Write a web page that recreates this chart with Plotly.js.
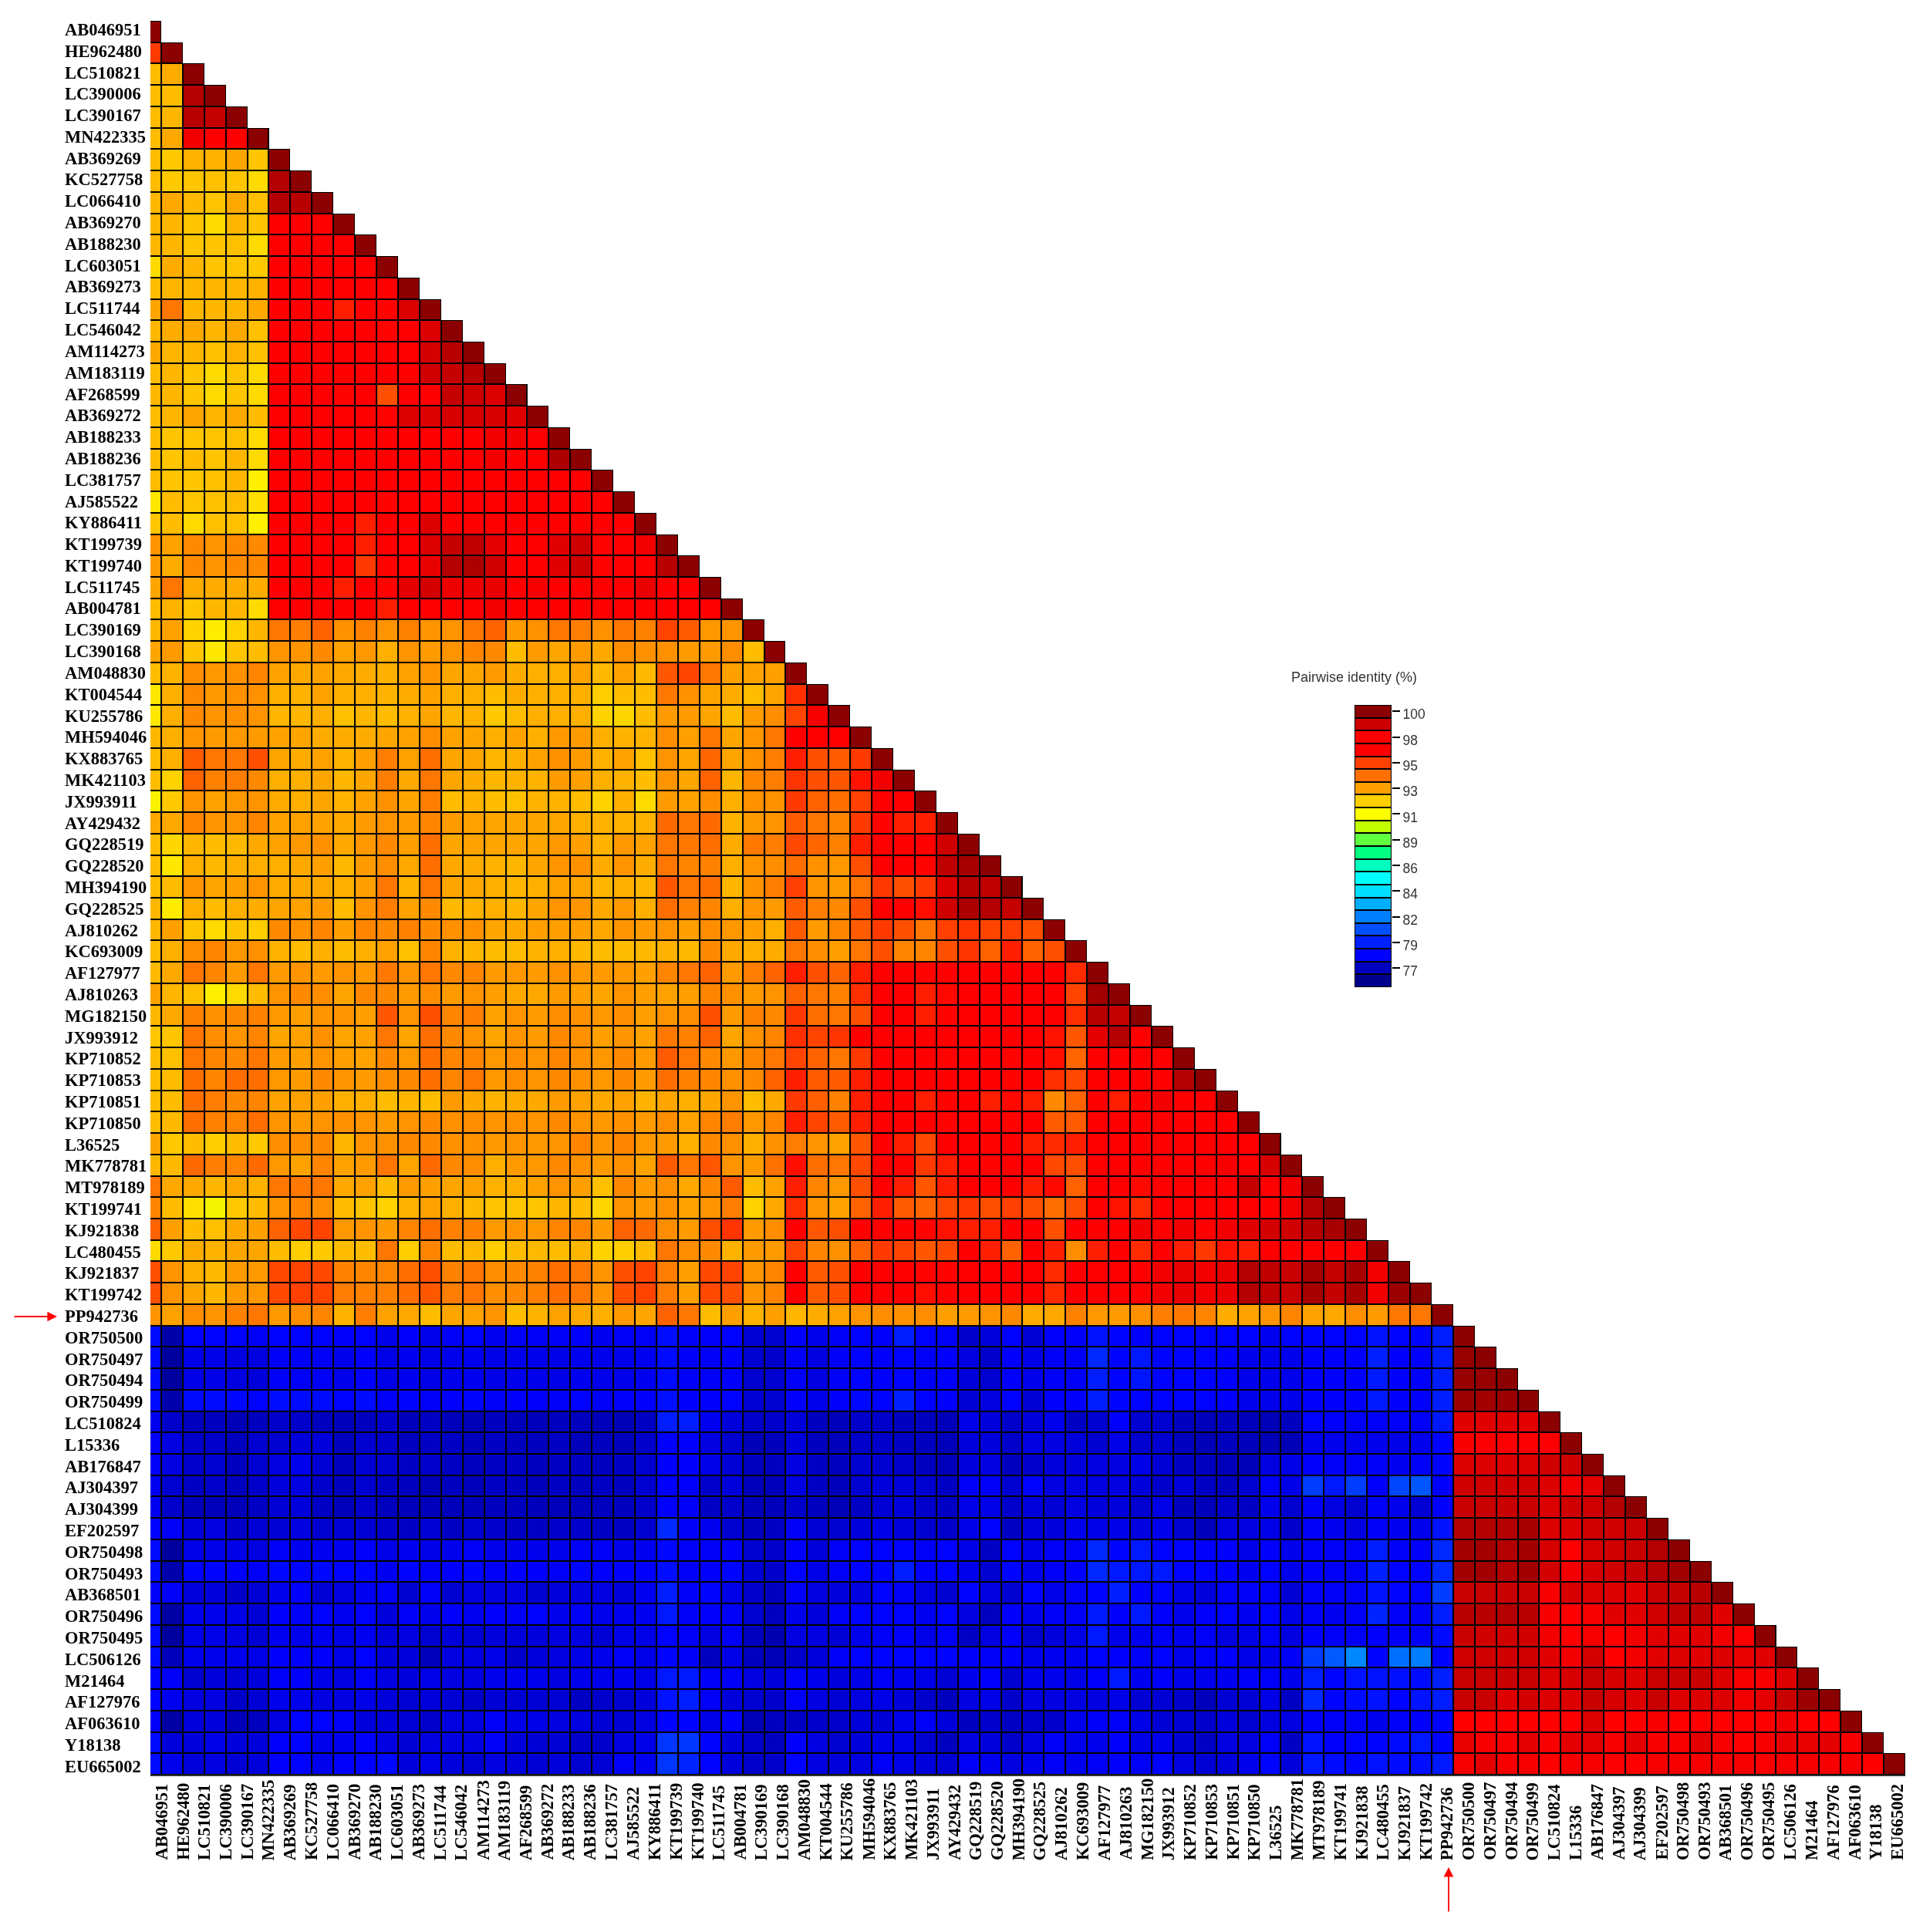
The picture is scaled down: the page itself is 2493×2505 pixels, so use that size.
<!DOCTYPE html>
<html><head><meta charset="utf-8">
<script src="https://cdn.plot.ly/plotly-3.0.1.min.js"></script>
<style>html,body{margin:0;padding:0;background:#fff}#p{width:2493px;height:2505px;filter:blur(0.55px)}</style></head>
<body><div id="p"></div>
<script>
const labels=["AB046951","HE962480","LC510821","LC390006","LC390167","MN422335","AB369269","KC527758","LC066410","AB369270","AB188230","LC603051","AB369273","LC511744","LC546042","AM114273","AM183119","AF268599","AB369272","AB188233","AB188236","LC381757","AJ585522","KY886411","KT199739","KT199740","LC511745","AB004781","LC390169","LC390168","AM048830","KT004544","KU255786","MH594046","KX883765","MK421103","JX993911","AY429432","GQ228519","GQ228520","MH394190","GQ228525","AJ810262","KC693009","AF127977","AJ810263","MG182150","JX993912","KP710852","KP710853","KP710851","KP710850","L36525","MK778781","MT978189","KT199741","KJ921838","LC480455","KJ921837","KT199742","PP942736","OR750500","OR750497","OR750494","OR750499","LC510824","L15336","AB176847","AJ304397","AJ304399","EF202597","OR750498","OR750493","AB368501","OR750496","OR750495","LC506126","M21464","AF127976","AF063610","Y18138","EU665002"];
const r00=[100];
const r01=[95.5,100];
const r02=[92,92.5,100];
const r03=[92,92,99.3,100];
const r04=[92,92.2,99.2,99,100];
const r05=[92,92.6,98,97.5,97.5,100];
const r06=[92,91.7,92.3,92.3,92.7,91.8,100];
const r07=[92,91.7,91.8,91.9,91.8,91.3,99.3,100];
const r08=[92.2,92.6,92.1,91.8,92.6,91.9,99.3,99.2,100];
const r09=[92.2,92.2,91.8,91.3,92.2,91.8,97.7,97.5,97.7,100];
const r10=[92.2,92.2,91.8,91.8,91.9,91.3,97.7,97.5,97.7,97.5,100];
const r11=[91.3,92.5,92.2,91.8,91.8,91.7,97.7,97.5,97.7,97.5,97.5,100];
const r12=[92,92.2,92.2,92.2,92.2,92.3,97.7,97.5,97.7,97.5,97.5,97.5,100];
const r13=[92.7,94,92.2,92.2,92.2,92.6,97.7,97.5,97.7,96,97.5,96.5,98.5,100];
const r14=[92.2,92.5,92.6,92.2,92.6,91.9,97.7,97.5,97.7,97.5,97.5,96.5,97.5,98.5,100];
const r15=[92.6,92.2,92.2,91.9,92.3,91.9,97.7,97.5,97.7,97.5,97.5,97.5,97.5,98.7,99.2,100];
const r16=[92,92.2,91.8,91.3,91.8,91.3,97.7,97.5,97.7,97.5,97.5,97.5,97.5,98.8,99,99.2,100];
const r17=[92.2,92.2,91.8,91.3,91.8,91.3,97.7,97.5,97.7,96.5,97.5,95,97.5,97.5,99,98.8,98.5,100];
const r18=[92,92.2,92.7,92.2,92.6,92,97.7,97.5,97.7,97.5,97.5,96.5,98.5,98.5,98.6,98.6,98.6,98.4,100];
const r19=[92,91.8,91.8,91.8,91.9,91.3,97.7,97.5,97.7,97.5,97.5,97.5,97.5,97.5,97.5,97.5,98,98,97.8,100];
const r20=[92,91.8,92,91.8,92.2,91.3,97.7,97.5,97.7,97.5,97.5,97.5,97.5,97.5,97.5,97.5,98,97.5,97.5,99.4,100];
const r21=[92,91.8,91.8,91.9,92.2,90.8,97.7,97.5,97.5,97.5,97.5,97.5,97.5,97.5,97.5,97.5,97.5,97.5,97.5,97.5,97.5,100];
const r22=[91,92,91.8,91.9,92,91.2,97.7,97.5,97.5,97.5,97.5,96.5,97.5,97.5,97.5,97.5,97.5,97.5,97.5,97.5,97.5,97.5,100];
const r23=[91.8,92,91.3,91.9,91.9,90.8,97.7,97.5,97.5,97.5,96,97.5,97.5,98.5,97.5,97.5,97.5,97.5,97.5,97.5,97.5,97.5,97.5,100];
const r24=[93.2,92.8,93.5,93.2,93.5,93.5,97.7,97.5,97.5,97.5,96,97.5,97.5,98.5,99,99.1,98.3,97.5,97.5,98.4,98.8,96.5,97.5,98,100];
const r25=[93,92.5,93.5,93.2,93.5,93.5,97.7,97.5,97.5,97.5,95.5,96.5,97.5,98.2,99.3,99.4,98.8,97.5,97.5,98.4,98.8,96.5,97.5,97.7,99.2,100];
const r26=[92.7,94,92.5,92.5,92.5,92.5,97.7,97.5,97.5,96,97.5,96.5,98.3,98.7,98.1,98.1,98.2,97.5,97.9,97.5,97.5,97.5,97.5,98.2,97.5,97.5,100];
const r27=[92,92.3,91.8,92.2,92.2,91.3,97.7,97.5,97.5,97.5,97.5,96,97.5,97.5,97.5,97.5,98,97.5,97.5,97.5,97.5,97.5,97.5,97.5,97.5,97.5,97.5,100];
const r28=[92.2,92.8,91.5,90.9,91.5,92.2,94,93.8,94.5,93.3,93.7,93.2,93.7,93.2,93.2,94,94.5,93,93.3,94,93.8,93.3,94,93.7,95.3,94.7,93.1,93.2,100];
const r29=[92.7,93,91.8,91,91.8,92,93.2,93.2,93.5,92.8,93.1,92.4,93.2,93,93.2,93.6,93.5,92,93,92.7,93,92.6,93.4,93.3,93.3,93,93,93.4,92,100];
const r30=[92,92.3,93.4,93.1,93.3,93.6,92.8,92.6,92.8,92.6,92.5,92.4,92.8,93.2,92.7,92.7,93,92.5,92.4,92.4,92.8,92.1,92.8,92.1,94.8,95.3,94,92.9,92.8,92.9,100];
const r31=[91,92.4,93.5,93.1,93.3,93.3,92.4,92.3,92.8,92.4,92.4,92.3,92.5,92.8,92.4,92.4,92,92.5,92.4,92.4,92.4,91.6,92,92,93.9,93.3,92.7,92.5,92,92.7,95.7,100];
const r32=[91,92.4,93.5,93.2,93.3,93.2,92.2,92.2,92.4,91.9,92.2,92,92.3,92.7,92.2,92.3,91.7,92,92.4,92.4,92.4,91.5,91.4,92,93,93,92.7,92,93,93.4,95.3,97.9,100];
const r33=[92.2,92.4,93.2,93,93.1,93,92.8,92.7,92.5,92.5,92.5,92.7,92.8,93.4,92.8,92.7,92.4,92.8,92.4,93.1,93,92.4,92.3,92.3,93.4,92.9,94,92.7,93.2,94,97.4,97.3,97.3,100];
const r34=[92,92.4,94.7,94,94,95,92.7,92.5,92.8,92.3,92.9,93.8,92.8,94.2,92.7,92.7,92.2,92.4,92.8,93.3,93,92.3,92.8,91.9,93.2,92.7,94.4,92.7,93.3,93.8,96,95,94.7,95.5,100];
const r35=[92,91.5,94.5,93.7,93.8,93.5,92.4,92.4,92.7,92.2,92.7,93.8,92.6,94,92.7,92.5,92.2,92.3,92.3,93,92.9,92.4,92.3,92,93.2,92.7,94.5,92.2,93.6,93.8,95.6,95,94.8,96.2,98,100];
const r36=[90.7,91.7,93.2,92.8,93.1,93.2,92.5,92.4,92.7,92.3,92.8,93.3,92.7,93.8,92,92.3,92,91.9,92.3,92.3,92,91.5,92.4,91.3,93,92.8,93.4,92.4,93.3,93.3,95.5,94.5,94.2,95.4,97.3,97.5,100];
const r37=[92.6,92.6,93.6,93.2,93.2,93.6,92.8,92.8,92.8,92.6,93,93.2,93,93.6,93,92.8,92.7,92.7,92.7,92.7,92.4,92.3,92.3,92.3,94.3,94,94.3,92.3,93,93.2,94.7,94,93.6,95.5,96.5,96,96,100];
const r38=[92,91.4,92.2,92,92.1,92.6,92.8,93.1,93.3,92.6,93.1,93.5,92.9,94.2,92.7,92.8,92.7,92.7,92.7,93.1,92.9,92.3,93.1,92.8,94,93.9,94.2,92.5,93.9,93.8,95.2,94.4,93.7,96,97.5,97.3,96.6,98.8,100];
const r39=[92,91,92.4,92.1,92.4,92.4,92.4,92.6,92.9,92.1,93,93.4,92.6,94.2,92.6,92.5,92.3,92.2,92.7,93.2,93.3,92.5,93.2,92.5,94,93.6,93.7,92.4,93.2,93.4,94.2,93.3,93.1,95,96.8,96.7,96.5,99.1,99.5,100];
const r40=[92,92,93.2,92.7,92.9,93.2,92.5,92.6,92.6,92.4,92.9,94,92.3,94,92.7,92.6,92.4,92.2,92.4,92.8,92.7,92.2,92.4,92.2,94.8,94,94.2,92.2,93.3,93.8,95.4,93.2,93,94,95.5,95,95.5,98.5,99.2,99.1,100];
const r41=[92.2,90.9,92.4,92,92.4,92.5,92.7,92.8,93,92,93.2,93.8,92.8,93.5,92.1,92.3,92.4,92.2,92.7,93.2,93.2,92.6,93.1,92.4,94.2,93.7,93.6,92.4,93.2,93,94.7,93.8,93.5,95,97,97.4,96.3,98.8,99.4,99.3,99,100];
const r42=[92.2,92.9,91.8,91.3,91.8,91.6,93.5,93.3,93.6,92.9,93.6,93.5,93.7,93.5,93.3,93.3,92.7,92.6,92.9,92.9,92.9,92.6,93.2,93,93.2,92.9,93.4,93.1,92.9,92.4,94.7,93,93.6,94.7,95.5,95,94,95.4,95.6,95.3,95.4,95,100];
const r43=[92,92.4,93.4,93.6,93.1,93.3,92.3,92,92.4,92,92.4,92.8,91.9,93.6,92.3,92.2,92,92,92.3,92.4,92.1,92,92,92.1,92.3,92.1,93.5,92.6,92.4,92.5,94,93.4,92.9,94,95,93.6,93.6,95,95.6,94.5,96,94.5,95,100];
const r44=[92.1,92.6,94,93.6,93,94,93,93.2,93,93.2,93.1,93.9,93.2,94,93.5,93.6,93,93.1,93,93.3,93.1,93,93.1,92.9,93.6,94,94.5,93,93.8,94.5,96,95,94.5,96,97.5,97.3,96.5,97.4,97.5,97.3,97.5,97.3,97.3,95.8,100];
const r45=[92.8,92.2,91.9,90.8,91.3,92,93.2,93.5,93.4,92.7,93.5,93.5,93,93.4,93,93.2,92.9,92.6,92.6,93,92.9,92.7,93.2,92.9,92.8,92.9,93.6,93.3,93,93.2,94.5,94,93.7,95.7,97.3,97.4,96,96.4,97.3,97.4,97.3,97.3,97.3,95.3,99.6,100];
const r46=[92.2,92.6,93.7,93.3,93.5,93.7,93.1,92.9,93.2,93.2,92.9,94.8,93.2,95,93.6,93.8,92.8,93.2,93,93.4,93.3,93.1,93.4,92.9,93.2,93.4,95,93,93.7,93.5,95.5,94.2,94,95,97.4,97.3,96,96.5,97.5,97.5,97.3,97.4,97.3,95.7,99.2,99,100];
const r47=[91.8,91.8,94,93.4,93.2,93.6,92.7,92.8,93.3,92.7,92.8,94,92.7,94.2,93.5,93.2,92.7,93.2,93,93.5,93.3,92.9,93.2,92.8,93.9,93.7,94.5,92.7,93.3,93.6,95.7,95.3,95.6,97.3,97.5,97.4,97.5,96.8,97.3,97.4,97.3,97.2,96.2,94.8,98.3,99.3,97.5,100];
const r48=[92,91.9,94,93.6,93.5,94,93,92.9,93.2,92.9,92.8,93.5,93.1,94.2,93.6,93.6,93.1,93.4,93.2,93.6,93.3,93.1,93.5,93,94.7,94,93.5,93.1,93.6,94,95.3,94.5,94,95.5,97.4,97.4,97.5,96.5,97.3,97.5,96.5,97.3,96.3,94.4,97.5,97.4,97.5,97.4,100];
const r49=[92,92,94.2,93.6,94.2,94.2,93.1,93,93.5,93.2,93,93.4,93.5,94.2,93.6,94,93.1,93.4,93.2,93.5,93.3,93.1,93.5,93,94.2,93.7,93.6,93.3,93.5,94.5,96,94.7,94.7,96,97.4,97.4,97.3,96.7,97.4,97.5,96.5,97.5,95.7,95.2,97.5,97.4,97.5,97.5,99.3,100];
const r50=[92,92,94.2,93.8,93.5,93.6,92.8,92.8,92.9,92.4,92.4,92,92.2,92,93,92.6,92.3,92.5,92.6,93,92.8,92.6,92.8,92.3,92.7,92.4,92.7,93.2,92,92.6,95.5,94.6,93.7,96,97.4,97.4,96,96.5,97.4,96,96.4,96,93.5,94.5,97.4,96,97.4,98,97.5,97.5,100];
const r51=[92,92.1,94.2,93.7,93.6,94.2,93.2,93,93.2,93.3,93.2,93,93.2,93.5,93.3,93.4,93.2,93.3,93.2,93.5,93.2,93.1,93.3,93,93.4,92.8,93.6,93.8,93.1,93.6,96,95.3,94.7,96,97.4,97.4,97.3,96.5,97.5,97.5,96.5,97.4,94.7,94.7,97.5,97.4,97.5,97.5,97.4,97.5,97.5,100];
const r52=[92.7,91.7,92,91.6,92,91.7,93.4,93.4,93.5,92.2,93.2,93.3,93.5,93.5,93.3,93.3,93.1,93.2,93.1,93.2,93.6,93.2,93.6,93.1,93,92.4,93.5,93.3,92.4,93.3,93.8,93.2,92.8,94.8,97.4,96,95.2,96.6,97.4,96.5,97.3,96,95.8,96,97.4,97.4,97.5,97.5,97.5,97.5,97.5,97.4,100];
const r53=[92.2,92.1,94.3,93.8,93.6,94.3,93.1,92.8,93.6,92.8,93,94,92.7,94.3,93.5,93.4,92.4,93,93.1,93.5,93.3,93,93.3,92.8,94.7,94,94.8,93.2,93,94.1,96.3,94.2,94,95.2,97.4,96.5,95.5,96,97.4,96.5,97.3,96.8,95.2,95,97.4,97.4,97.3,97.4,97.3,97.4,97.9,97.5,98.6,100];
const r54=[94,92.6,92.6,92.2,92.6,92.3,94,93.9,94,92.6,92.8,92,93,92.9,92.7,92.8,92.3,92.4,92.8,93.2,92.9,91.9,93.5,93,93.3,92.6,93.5,94.7,92,92.8,96,93.6,93.1,95,97.4,96,94.8,96,97.3,96.7,97.4,96,96.4,94.5,97.4,97.3,96.4,97.4,97.4,97.4,97.7,99,97.6,98,100];
const r55=[93.6,92,91.2,90.6,91.7,92,93.2,93.6,93.4,92,91.8,91.5,92.3,92.8,92.4,92.1,91.8,91.8,91.8,92.2,92,91.4,93.2,93,93.3,92.8,93.2,93.8,91.5,92.6,95.7,93.2,92.8,94.5,96,94.7,94.4,95.2,95.5,95,95.4,95,94.2,95,97.4,96.2,95.8,97.4,97.4,97,97.5,97.5,97.7,98,99.3,100];
const r56=[94.5,92.9,92,91.9,92.6,92.9,94.5,95.2,95.3,93.1,93.2,93,93.6,94.2,93.7,93.7,93,93.2,93.1,93.6,93.6,93,94.5,94.3,93.4,93,95,95.6,93,93.4,97.3,94.8,95,97.4,97.4,97.3,96.5,96.2,96,96,96.7,97.3,95,97.4,97.5,97.4,98,97.5,98,97.5,98,98.4,98.7,98.8,99.2,99.5,100];
const r57=[91.3,91.7,92.5,92.3,92.7,92.7,92,91.6,91.7,92,92,94,91.6,93.6,92,92.1,91.6,92,92.1,92,92.2,91.5,91.6,92,94,93.4,93.5,92.3,93,93,95.3,93.6,93.3,94.5,95.5,95.3,94.8,95.2,97,96,94.5,97.4,96,93.4,96,97.4,95.8,97.4,96,95.5,96.2,96,97.4,97.5,97.5,97.5,97.8,100];
const r58=[95,93.2,92.4,92.1,93,93,95.2,95.3,95.2,93.7,93.6,93.6,94.2,95,93.7,94,93.4,93.5,93.7,94.2,94,93.2,95,95.3,93.8,92.9,95.2,95.3,93.2,93.6,97.4,94.7,95,97.2,97.4,97.3,96.5,96.5,97.4,97.4,97.5,97.3,95.8,97.4,97.5,97.4,97.5,98,98.2,98,98.2,99.3,99.1,98.9,99.5,99,99.5,98,100];
const r59=[95,93.2,92.7,92.2,93,93.1,95.2,95.4,95.3,93.8,93.7,93.7,94.2,94.8,93.8,94,93.4,93.5,93.7,94.2,94,93.2,95,95.3,93.8,92.9,95.2,95,93.2,93.6,97.4,94.7,95,97.2,97.4,97.3,96.3,96.5,97.4,97.4,97.5,97.3,95.8,97.4,97.5,97.4,97.5,98,98.2,98,98.2,99.3,99.1,98.9,99.5,99,99.5,98,99.7,100];
const r60=[93.2,92.8,93.4,93.2,93.7,94,93.1,93.4,93.6,92.3,93.8,92.8,92.6,92,92.7,92.8,93.2,92,92.3,92.8,92.6,92.4,93.1,92.7,94.5,94,92,92.9,92.3,92.9,92.2,92.5,92.8,93.2,93.4,93.3,93.4,92.9,93,93.2,93.5,92.5,92.6,93.7,93.1,93,93.3,93.8,93.9,93.6,92.5,92.8,93.2,93.6,92.8,92.6,93.4,93,94,94,100];
const r61=[78.5,76.5,78.2,78.2,78.2,78,78.2,78.2,78.2,78.1,78.2,77.8,78.1,77.8,78,78.2,77.9,78,78,78,78.1,77.9,78,78,78.6,78,78.1,78.2,77.4,77.3,78.1,77.8,78,78.2,78.1,79.2,78.2,78,77.2,77.5,78.2,77.4,78.1,78.1,78.8,78.2,78.1,78.2,78.2,78.2,78.2,78.2,77.9,78.2,78.3,78.2,78.2,78.8,78.2,78.3,79.2,100];
const r62=[78.5,76.3,77.7,77.7,77.6,77.6,78,78,78,77.8,78.1,77.7,77.9,77.7,77.8,77.9,77.7,77.8,77.8,77.7,77.9,77.8,77.8,77.9,78.5,78,78,78.1,77.3,77.2,78,77.6,78,78.2,78.1,78.2,78,78.1,77.6,77.2,78.1,77.7,78,78,79.5,78.3,79,78.3,78.2,78.2,78.1,77.8,77.8,77.8,78.1,78.1,78.1,79.3,78.1,78.1,79.2,99.8,100];
const r63=[78.5,76.3,77.7,77.7,77.6,77.5,78,78,78,77.8,78.1,77.7,77.9,77.7,77.8,77.9,77.7,77.8,77.8,77.7,77.9,77.8,77.8,77.9,78.5,78,78,78.1,77.3,77.3,78,77.6,78,78.2,78.1,78.2,78,78.1,77.5,77.3,78.1,77.8,78,78,79.2,78.2,78.9,78.2,78.2,78.2,78.1,77.8,77.8,77.8,78.1,78.1,78.1,79,78.1,78.1,79.2,99.8,99.8,100];
const r64=[78.5,76.6,78.5,78.5,78.4,78.2,78.6,78.5,78.5,78.2,78.5,78,78.3,78,78.1,78.3,78,78.1,78.1,78,78.2,78,78.1,78.1,78.7,78.1,78.1,78.2,77.4,77.3,78.1,77.8,78.1,78.4,78.2,79.3,78.2,78.1,77.4,77.6,78.2,77.4,78.1,78.1,79.2,78.3,78.2,78.2,78.2,78.2,78.1,77.8,77.8,77.8,78.1,78.1,78.1,79,78.1,78.1,79.2,99.7,99.6,99.7,100];
const r65=[77.8,77.2,77,77,76.8,77,77.2,77.2,77,76.9,77,77.2,76.9,77.1,76.9,76.8,77,76.9,76.9,77,77,76.9,76.8,77.1,79.2,79.2,77.9,77.5,77.2,77.2,77.5,77,76.9,77.2,77.2,77,77,76.9,77.7,77.5,77.2,77.5,77.8,77.1,77.3,78.1,77.3,77.3,77,76.9,77,76.9,76.8,77,78.2,78.1,78,78,78,78,79,98.4,98.4,98.4,98.3,100];
const r66=[78,77.6,77.2,77.2,77,77.3,77.3,77.5,77.5,77,77.3,77.2,77,77.1,77.1,76.9,77.1,77,77,77.1,76.9,77,76.9,77.2,78.1,78.1,77.6,77.3,76.8,76.9,77.5,77,76.9,77.2,77.2,77.1,77,76.9,77.5,77.5,77.2,77.6,77.6,77.5,77.3,77.7,77.3,77.3,77,76.8,77,76.9,76.8,76.8,77.8,77.8,77.8,77.8,77.7,77.8,78.2,97.9,97.8,97.8,97.8,97.8,100];
const r67=[78,77.6,77.2,77.3,77,77.3,77.6,77.8,77.4,77,77.4,77.3,77.1,77.2,77.1,77,77.1,77.1,77,77.1,77.1,77,77.1,77.3,78.1,78.1,77.7,77.4,77,77,77.6,77.1,77,77.3,77.3,77.2,77,76.9,77.5,77.6,77,77.2,77.5,77.5,77.6,77.6,77.7,77.4,77.1,77,76.9,76.8,77.6,77.7,78.1,78,78,78,77.9,78,78.3,98.5,98.5,98.5,98.5,98.8,98.8,100];
const r68=[77.9,77.3,77.1,77.2,77,77.2,77.5,77.6,77.2,77,77.3,77.1,77,76.8,77,76.9,77.1,77,76.9,77.1,77,77.1,77,77.3,78.1,78.1,77.2,77.5,76.9,76.9,77.6,77.1,76.9,77.3,77.5,77.5,77.3,77.1,78,78,77.3,78.2,77.6,77.6,77.6,77.6,77.5,77.2,77.5,77.1,77,77.3,78,77.7,80,79,80,78.1,80.2,80.6,78.1,98.8,98.8,98.8,98.8,98.5,98,98.3,100];
const r69=[77.9,77.2,76.9,76.9,76.9,77.1,77.4,77.5,77.1,76.9,77.2,77,76.9,76.9,76.9,76.9,77,77,76.9,76.9,77,77,77,77.2,78.1,78,77.1,77.2,76.9,76.9,77.2,77,76.8,77.1,77.4,77.5,77.2,77.1,77.7,77.7,77.2,77.5,77.4,77.6,77.5,77.5,77.3,77.7,77,76.9,77.2,77.1,77.8,77.3,78,77.6,77.3,78,77.8,77.4,78.1,98.9,98.9,98.9,98.9,98.5,98.8,98.8,99.3,100];
const r70=[78.2,78,77.5,77.6,77.2,77.4,77.4,77.6,77.3,77.4,77.4,77.2,77.1,77.4,77.1,77.3,77.2,77.1,77.1,77.2,77.2,77.1,77.1,77.3,79.5,78,77.9,77.3,77,77.1,78,77.4,77.3,77.5,77.7,77.5,77.3,77.2,77.7,78.2,77.1,77.5,77.5,77.8,77.7,77.7,77.6,77.8,77.3,76.9,77.6,77.6,77.7,77.2,78,77.9,77.6,78,77.9,77.8,78.8,99.3,99.3,99.3,99.5,98.5,98.5,98.8,98.8,98.9,100];
const r71=[78.5,76.3,77.7,77.7,77.7,77.6,78,77.9,77.9,77.9,78.1,77.7,77.9,77.7,77.8,78,77.8,77.8,77.8,77.8,78,78,77.8,77.9,78.4,78,78,78.1,77.3,77.2,78.1,77.5,78,78.2,78.2,78.2,78,78.2,77.7,77.1,78.2,77.7,78,78,79.5,78.3,79,78.2,78.2,78.1,78.1,77.7,78.1,77.8,78,78,78,79.2,78,78.1,79.5,99.6,99.6,99.3,99.6,98.6,97.5,98.6,98.8,98.9,99.3,100];
const r72=[78.5,76.6,78.3,78.3,78.1,78,78.4,78.3,78.4,78.2,78.3,77.9,78.3,78,78.1,78.3,78,78.1,78.1,78,78.3,78.1,78.1,78.1,78.6,78,78.1,78.3,77.4,77.2,78.2,77.7,78,78.2,78.3,79.2,78.1,78.2,77.8,77.3,78.3,77.8,78,78.1,79.5,79,79,79,78.2,78.2,78.1,77.9,78.2,77.8,78.1,78,78,79.3,78.2,78.2,79.5,99.6,99.6,99.3,99.6,98.7,98,98.6,98.8,99,99.3,99.6,100];
const r73=[78,78,77.5,77.5,77.2,77.4,77.8,78.1,77.4,77.6,77.9,78,77.3,78,77.3,77.6,77.6,77.6,77.3,77.5,77.6,77.6,77.5,77.9,79.2,78,78.3,77.7,77.2,77,78,77.6,77.5,77.6,78.2,78,77.6,77.3,78.2,77.6,77.3,78.2,77.7,78,78.2,79.2,78.1,78.2,77.7,77.5,78,78,78,77.4,78,78,78,78.8,78.2,78.2,80,98.9,98.9,98.9,98.9,97.9,98.6,98.5,98.5,98.4,98.9,99,99.2,100];
const r74=[78.5,76.4,77.8,77.8,77.7,77.4,78.1,78,78.2,77.9,78.2,77.5,78,77.8,78.1,77.9,78.1,78,78.2,77.8,78,77.8,77.9,77.9,79,78,78.1,78,77.3,77,77.8,77.5,78,78.2,78.2,78.2,77.9,78.2,77.6,77,78.1,77.8,78,78,79,78.1,79,78.1,77.8,78.1,78.2,77.9,78.2,77.7,78,77.9,78,79.4,78,78,79.2,99.2,99.2,99.3,99.2,97.9,97.5,97.9,98.4,98.4,98.8,99.1,99.1,98.4,100];
const r75=[78.5,76.3,77.7,77.7,77.6,77.4,77.9,77.8,77.9,77.7,77.9,77.5,77.6,77.3,77.5,77.4,77.5,77.5,77.5,77.6,77.6,77.4,77.7,77.7,78.2,78,77.6,78,77,76.7,77.6,77.6,77.4,77.8,78,78.1,77.7,78,77.1,77.6,78.1,77.3,77.5,77.7,79,77.8,77.9,78,77.9,78,77.6,77.7,78,77.6,78.1,78,78,78.1,78,78,78.5,98.9,98.8,98.8,98.8,98,97.5,97.9,97.6,98,98.4,98.4,98.4,98,97.8,100];
const r76=[78.5,76.9,77.8,77.8,77.8,77.7,78.1,78.1,78.1,77.7,78.2,77.5,77.5,76.9,77.6,77.6,77.7,77.2,77.5,77.6,77.7,77.8,78,77.7,78.3,78,77,77.7,77,76.8,77.2,77.5,78,78.2,78.3,78.2,78.2,78.3,78,78,78.1,77.8,77.9,77.9,78.2,78.1,78,78.2,77.8,78,78.1,77.7,77.8,78,80,80.7,81.8,78.3,81.2,81.5,78.3,98.8,98.8,98.8,98.8,98.4,98,98.7,97.5,98,98.4,98.5,98.4,98.5,98.2,98.4,100];
const r77=[78.3,78,77.3,77.5,77.4,77.5,78,78.1,77.7,77.6,78,77.6,77.5,77.7,77.6,77.6,77.8,77.9,77.8,77.6,77.8,77.8,77.9,77.7,79,79,78,78,77.6,77.5,78,77.8,77.5,77.7,78,77.9,77.7,77.4,77.8,78.1,77.3,77.8,77.8,77.7,78.1,79,77.9,78.1,77.8,77.8,77.9,78,78,77.8,79.2,78.2,78.8,78.8,78.7,78.5,79.3,98.9,98.9,98.9,98.9,98.5,98.6,98.9,98.6,98.5,98.9,98.9,98.9,98.5,97.9,97.9,98.5,100];
const r78=[78.3,77.9,77.6,77.6,77.2,77.4,77.8,77.8,77.6,77.6,77.7,77.5,77.4,77.5,77.4,77.2,77.4,77.4,77.4,77.4,77.1,77.2,77.3,77.5,78.8,79.2,78,77.5,77.3,77.2,78,77.6,77.4,77.6,77.7,77.5,77.2,77,77.6,77.7,77.2,77.6,77.6,77.6,77.6,77.7,77.4,77.4,77.2,76.9,77.4,77.4,77.7,77.1,79.5,78.3,78.5,78.8,78.2,78.8,79.2,98.9,98.9,98.5,98.7,98.5,98.5,98.9,98.6,98.5,98.9,98.5,98.5,98.5,98,98.3,98.9,99.7,100];
const r79=[78,76.4,77.5,77.5,76.9,77,77.6,78.2,78.2,78,77.5,77.5,77.4,77.2,77.6,77.6,78,77.7,77.7,77.6,77.6,77.4,77.4,77.6,78.3,78.2,77.7,78.1,76.8,77,77.1,77.2,77.2,77.5,77.4,77.8,78,77.5,77,77.2,77.1,77.2,77.2,77.8,78,78,77.7,77.4,77.4,77.2,77.5,77.3,77.6,77.6,78,78,78,77.8,78,78.1,78.3,97.5,97.5,97.5,97.5,97.5,97.5,98.5,97.5,97.5,97.9,97.5,97.5,97.5,97.5,97.7,98,97.5,97.5,100];
const r80=[78.5,77.5,77.5,77.7,77.5,77.5,78.1,78.2,77.8,77.9,78.1,77.6,77.4,77.6,77.6,77.6,78,77.5,77.4,77.4,77.2,77.2,77.6,77.7,79.8,79.8,78.3,77.5,77.2,77,78.1,77.6,77.3,77.5,77.7,77.7,77.3,77,77.6,77.5,77.2,77.6,78,77.8,77.8,78.1,77.7,77.8,77.4,77.1,77.6,77.6,78,77.1,78.8,78.1,78.2,78.3,78.5,79,78.3,98.2,97.9,97.9,98.3,97.9,98.3,98.3,97.9,98.3,97.9,97.9,98.3,97.9,97.5,97.9,98.2,98.2,98.3,97.9,100];
const r81=[78.5,77.8,77.5,77.6,77.4,77.5,78.1,78.2,77.8,78.1,78.2,78.4,77.5,77.7,77.5,77.4,77.6,77.5,77.4,77.5,77.3,77.4,78,77.9,79.8,79.4,78.2,77.5,77.2,77.2,78.2,77.6,77.5,77.6,78,77.7,77.5,77.4,78,77.9,77.6,77.8,78,77.9,78,78.1,78,78.2,77.6,77.4,77.5,77.8,78.3,77.5,79,78.5,78.3,78.8,78.5,78.6,79,97.9,98.3,97.9,97.9,97.5,97.9,97.9,97.8,97.5,97.9,97.9,97.9,97.9,97.9,97.8,97.9,97.9,97.9,97.9,97.5,100];

const rows=[r00,r01,r02,r03,r04,r05,r06,r07,r08,r09,r10,r11,r12,r13,r14,r15,r16,r17,r18,r19,r20,r21,r22,r23,r24,r25,r26,r27,r28,r29,r30,r31,r32,r33,r34,r35,r36,r37,r38,r39,r40,r41,r42,r43,r44,r45,r46,r47,r48,r49,r50,r51,r52,r53,r54,r55,r56,r57,r58,r59,r60,r61,r62,r63,r64,r65,r66,r67,r68,r69,r70,r71,r72,r73,r74,r75,r76,r77,r78,r79,r80,r81];

const bandValues=[100,98.85,97.7,96.55,95.4,94.25,93.1,91.95,90.8,89.65,88.5,87.35,86.2,85.05,83.9,82.75,81.6,80.45,79.3,78.15,77,75.85];
const bandColors=["#8B0000","#CC0000","#FF0000","#FF0000","#FF4000","#FF7000","#FFA000","#FFCF00","#FFFF00","#BFFF00","#60FF40","#00FF80","#00FFBF","#00FFFF","#00DFFF","#00AFFF","#0080FF","#0050FF","#0020FF","#0000FF","#0000BF","#00008B"];
const cellColors=["#8B0000","#CC0000","#FF0000","#FF0000","#FF4000","#FF6C00","#FF9800","#FFBE00","#FFF000","#BFFF00","#60FF40","#00FF80","#00FFBF","#00FFFF","#00DFFF","#00AFFF","#0080FF","#0050FF","#0020FF","#0000FF","#0000BF","#00008B"];
const legendTickVals=[100,97.7,95.4,93.1,90.8,88.5,86.2,83.9,81.6,79.3,77];
const legendTickText=["100","98","95","93","91","89","86","84","82","79","77"];
const legendTitle="Pairwise identity (%)";

const W=2493,H=2505,L=195,R=2470,T=27,B=2301;
const px=v=>(v-L)/(R-L), py=v=>(B-v)/(B-T);
const zMin=bandValues[bandValues.length-1], zMax=bandValues[0];
const scaleOf=c=>bandValues.map((v,i)=>[(v-zMin)/(zMax-zMin),c[i]]).reverse();
const n=labels.length, idx=labels.map((_,i)=>i);
const z=rows.map(r=>idx.map(j=>j<r.length?r[j]:null));
const mask=rows.map(r=>idx.map(j=>j<r.length?1:null));

const black=[[0,'#000'],[1,'#000']];
const traces=[
 {type:'heatmap',x:idx,y:idx,z:mask,colorscale:black,zmin:0,zmax:1,showscale:false,hoverinfo:'skip'},
 {type:'heatmap',x:idx,y:idx,z:z,colorscale:scaleOf(cellColors),zmin:zMin,zmax:zMax,showscale:false,xgap:2,ygap:2,hoverongaps:false},
 {type:'heatmap',x:[0],y:bandValues,z:bandValues.map(()=>[1]),colorscale:black,zmin:0,zmax:1,showscale:false,xaxis:'x2',yaxis:'y2',hoverinfo:'skip'},
 {type:'heatmap',x:[0],y:bandValues,z:bandValues.map(v=>[v]),colorscale:scaleOf(bandColors),zmin:zMin,zmax:zMax,showscale:false,xaxis:'x2',yaxis:'y2',ygap:2,xgap:2}
];

const serif={family:'Liberation Serif',size:22.5,color:'#000',weight:700};
const ann=[];
labels.forEach((t,i)=>{
 ann.push({text:t,xref:'paper',x:px(83),xanchor:'left',yref:'paper',y:py(38.4+27.8*i),yanchor:'middle',showarrow:false,font:serif,borderpad:0});
 ann.push({text:t,xref:'paper',x:px(209+27.78*i),xanchor:'center',yref:'paper',y:py(2413),yanchor:'bottom',textangle:-90,showarrow:false,font:serif,borderpad:0});
});
ann.push({text:legendTitle,xref:'paper',x:px(1755),xanchor:'center',yref:'paper',y:py(878),yanchor:'middle',showarrow:false,font:{family:'Liberation Sans',size:18,color:'#333'}});
ann.push({text:'',xref:'paper',yref:'paper',x:px(74),y:py(1707),ax:-57,ay:0,showarrow:true,arrowcolor:'#f00',arrowwidth:1.8,arrowhead:2,arrowsize:1.4});
ann.push({text:'',xref:'paper',yref:'paper',x:px(1878),y:py(2421),ax:0,ay:59,showarrow:true,arrowcolor:'#f00',arrowwidth:1.8,arrowhead:2,arrowsize:1.4});

const layout={width:W,height:H,margin:{l:L,r:W-R,t:T,b:H-B,pad:0},paper_bgcolor:'#fff',plot_bgcolor:'#fff',showlegend:false,
 xaxis:{range:[0,n-0.5],showgrid:false,zeroline:false,showticklabels:false,ticks:'',showline:true,linecolor:'#333',linewidth:2,anchor:'y',domain:[0,1]},
 yaxis:{range:[n-0.5,-0.5],showgrid:false,zeroline:false,showticklabels:false,ticks:'',showline:false,anchor:'x',domain:[0,1]},
 xaxis2:{domain:[px(1756),px(1804)],anchor:'y2',range:[-0.5,0.5],showgrid:false,zeroline:false,showticklabels:false,ticks:''},
 yaxis2:{domain:[py(1280),py(914)],anchor:'x2',side:'right',range:[zMin-0.575,zMax+0.575],showgrid:false,zeroline:false,tickmode:'array',tickvals:legendTickVals,ticktext:legendTickText,ticks:'outside',ticklen:10,tickwidth:2,tickcolor:'#000',ticklabelshift:4,tickfont:{family:'Liberation Sans',size:17.5,color:'#333'}},
 annotations:ann};
Plotly.newPlot('p',traces,layout,{displayModeBar:false,responsive:false});
</script></body></html>
